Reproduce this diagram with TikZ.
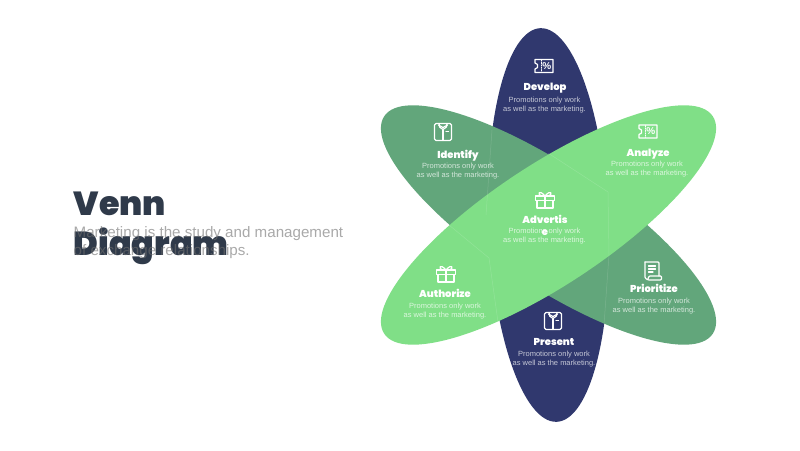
\documentclass[tikz,border=0pt]{standalone}
\usepackage{fontspec}
\setmainfont{Liberation Sans}
\newfontfamily\heavyfont{Poppins Black}
\definecolor{navypetal}{HTML}{30386E}
\definecolor{darkpetal}{HTML}{62A67B}
\definecolor{lightpetal}{HTML}{80DF87}
\definecolor{titleink}{HTML}{2F3A4A}
\definecolor{subink}{HTML}{6F6F6F}
\tikzset{
  x=1pt, y=1pt,
  petaltitle/.style={text=white, font=\heavyfont\fontsize{10}{12}\selectfont, align=center},
  petalbody/.style={text=white, text opacity=.72, font=\fontsize{7.5}{9}\selectfont, align=center},
  hexline/.style={white, opacity=.15, line width=.5pt},
  iconline/.style={white, line width=1.2pt, line join=round, line cap=round},
  gift/.pic={
    \draw[iconline] (-9.5,3) rectangle (9.5,-1.5);
    \draw[iconline] (-8,-1.5) -- (-8,-9) -- (8,-9) -- (8,-1.5);
    \draw[iconline] (0,3) -- (0,-9);
    \draw[iconline] (0,3) .. controls (-6,10) and (-8,5) .. (-4,3);
    \draw[iconline] (0,3) .. controls (6,10) and (8,5) .. (4,3);
  },
  ticket/.pic={
    \draw[iconline] (-9,6.5) -- (9,6.5) -- (9,-6.5) -- (-9,-6.5) -- (-9,-3)
      -- (-6.5,-1.5) -- (-6.5,1.5) -- (-9,3) -- cycle;
    \draw[iconline, line width=.7pt, dash pattern=on 1.2pt off 1.2pt] (-3,6) -- (-3,-6);
    \node[text=white, font=\bfseries\fontsize{10}{10}\selectfont] at (2.8,0) {\%};
  },
  shirt/.pic={
    \draw[iconline, rounded corners=1.5pt] (-4,8.5) -- (-8.5,8.5) -- (-8.5,-8.5) -- (8.5,-8.5) -- (8.5,8.5) -- (4,8.5);
    \draw[iconline] (-4,8.5) -- (4,8.5) -- (3.5,5) -- (0,2.5) -- (-3.5,5) -- cycle;
    \draw[iconline] (-4.5,7) -- (0,4.5) -- (4.5,7);
    \draw[iconline] (0,2.5) -- (0,-8.5);
    \draw[iconline] (3,0.5) -- (5.5,0.5);
  },
  scroll/.pic={
    \draw[iconline, rounded corners=1pt] (-8,9) -- (6,9) -- (6,-5);
    \draw[iconline, rounded corners=1pt] (-8,9) -- (-8,-7) -- (-5,-9) -- (8.5,-9) -- (8.5,-5) -- (-4,-5) -- (-5,-8);
    \draw[iconline] (-4.5,5) -- (2.5,5);
    \draw[iconline] (-4.5,2) -- (2.5,2);
    \draw[iconline] (-4.5,-1) -- (0,-1);
  }
}

\begin{document}
\begin{tikzpicture}
  \useasboundingbox (0,0) rectangle (800,450);
  \coordinate (O) at (548.5,225);

  % heading
  \node[text=titleink, font=\heavyfont\fontsize{33.3}{40}\selectfont, align=left, anchor=north west, inner sep=0pt] (heading) at (73.5,258.5)
    {Venn\\Diagram};
  \node[text=subink, text opacity=.6, font=\fontsize{15.15}{18.4}\selectfont, align=left, anchor=north west, inner sep=0pt] (intro) at (73.5,224)
    {Marketing is the study and management\\of exchange relationships.};

  % petals
  \fill[navypetal, shift={(O)}, rotate=92.4] (0,0) ellipse (197pt and 60pt);
  \fill[darkpetal, shift={(O)}, rotate=-33.5] (0,0) ellipse (197pt and 60pt);
  \fill[lightpetal, shift={(O)}, rotate=33.5] (0,0) ellipse (197pt and 60pt);

  % faint lines
  \draw[hexline] (548,297) -- (608,258) -- (609,195) -- (604,125);
  \draw[hexline] (449,225) -- (489,192) -- (498,128);
  \draw[hexline] (492,320) -- (486,235);

  % icons
  \pic at (544,384) {ticket};
  \pic at (443,318) {shirt};
  \pic at (648,318.5) {ticket};
  \pic at (545,251) {gift};
  \pic at (446,177) {gift};
  \pic at (653,179) {scroll};
  \pic at (553,129) {shirt};

  % titles
  \node[petaltitle] (develop) at (545,362) {Develop};
  \node[petaltitle] (identify) at (458,294) {Identify};
  \node[petaltitle] (analyze) at (648,296) {Analyze};
  \node[petaltitle] (advertis) at (545,225) {Advertis\\e};
  \node[petaltitle] (authorize) at (445,156.5) {Authorize};
  \node[petaltitle] (prioritize) at (654,161.5) {Prioritize};
  \node[petaltitle] (present) at (554,108) {Present};

  % body text
  \foreach \n/\x/\y in {develop/544.5/345, identify/458/279, analyze/647/281, advertis/544.5/214,
                        authorize/445/139, prioritize/654/144, present/554/91}
    \node[petalbody] (\n-body) at (\x,\y) {Promotions only work\\as well as the marketing.};
\end{tikzpicture}
\end{document}
